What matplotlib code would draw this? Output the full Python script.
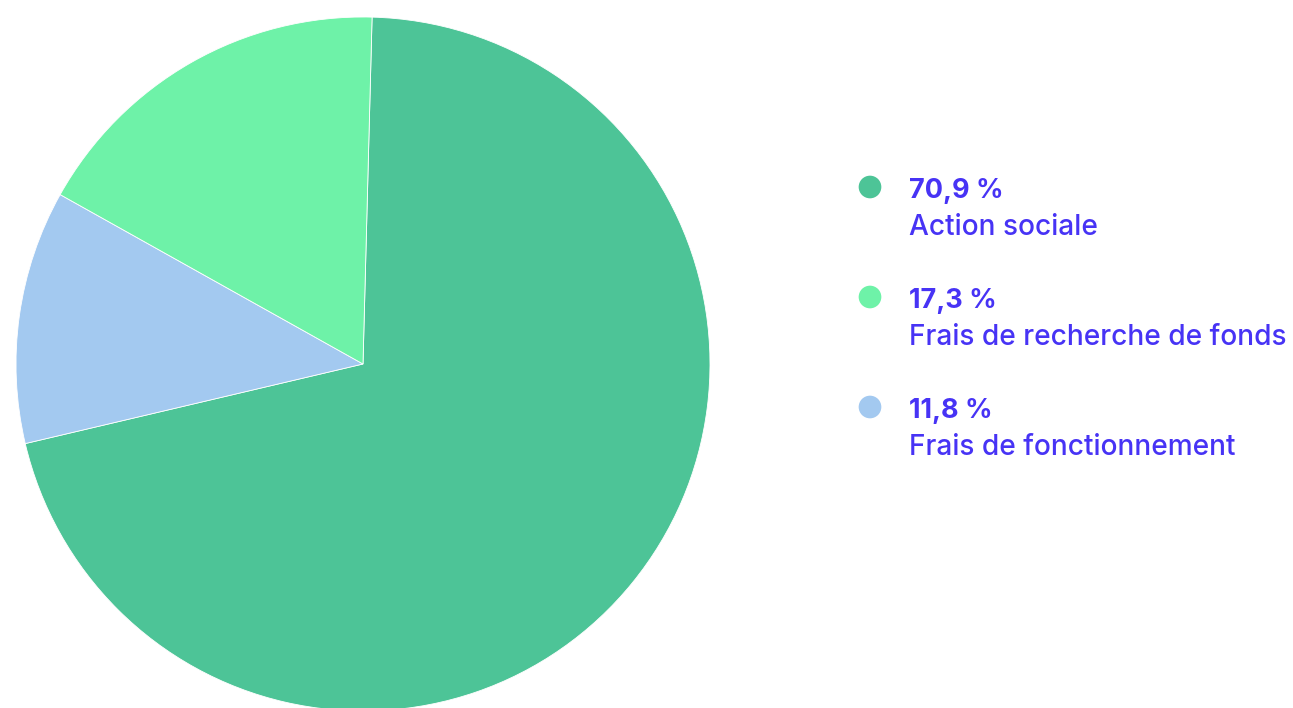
import matplotlib
matplotlib.use("Agg")
import matplotlib.pyplot as plt

labels = ["Action sociale", "Frais de recherche de fonds", "Frais de fonctionnement"]
values = [70.9, 17.3, 11.8]
pct_labels = ["70,9 %", "17,3 %", "11,8 %"]
colors = ["#4DC497", "#6EF2A8", "#A3C9F0"]
text_color = "#4733F5"

# drawing order around the pie (clockwise from top): green, blue, light green
draw_order = [0, 2, 1]

W, H = 1293, 708
fig = plt.figure(figsize=(W / 100, H / 100), dpi=100)

cx, cy, r = 363, 364, 347
ax = fig.add_axes([(cx - r) / W, (H - cy - r) / H, 2 * r / W, 2 * r / H])
ax.pie([values[i] for i in draw_order],
       colors=[colors[i] for i in draw_order],
       startangle=88.5, counterclock=False, radius=1,
       wedgeprops=dict(edgecolor="white", linewidth=0.6))
ax.set_xlim(-1, 1)
ax.set_ylim(-1, 1)
ax.set_aspect("equal")
ax.axis("off")

lax = fig.add_axes([0, 0, 1, 1])
lax.set_xlim(0, W)
lax.set_ylim(H, 0)
lax.axis("off")
lax.patch.set_alpha(0)

row_y0 = 187
row_step = 110
for i in range(len(labels)):
    y = row_y0 + i * row_step
    lax.scatter([870], [y], s=22 ** 2 * 0.55, color=colors[i], edgecolors="none")
    lax.text(909, y + 11, pct_labels[i], fontsize=19.5, fontweight="bold",
             color=text_color, family="Inter", va="baseline", ha="left")
    lax.text(909, y + 48, labels[i], fontsize=20.2, fontweight="medium",
             color=text_color, family="Inter", va="baseline", ha="left")

fig.savefig("out.png", dpi=100)
